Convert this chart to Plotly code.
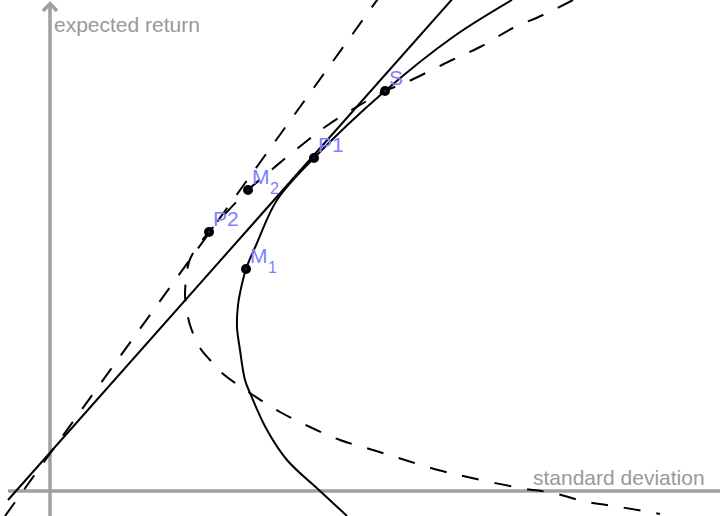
import plotly.graph_objects as go

# Risky-asset frontier (solid): standard deviation / expected return pairs
frontier1_sd = [2.97, 2.70, 2.37, 2.17, 2.00, 1.95, 1.90, 1.87, 1.88, 1.90, 1.96,
                2.07, 2.27, 2.64, 3.35, 4.03, 4.62]
frontier1_mu = [-0.25, 0.00, 0.31, 0.61, 0.98, 1.11, 1.41, 1.64, 1.86, 1.98, 2.22,
                2.48, 2.91, 3.33, 4.00, 4.54, 4.91]

# Extended frontier (dashed)
frontier2_sd = [5.23, 4.93, 4.63, 4.30, 4.02, 3.57, 3.35, 3.10, 2.78, 2.48, 1.98,
                1.90, 1.59, 1.45, 1.39, 1.35, 1.36, 1.40, 1.50, 1.60, 1.72, 2.00,
                2.30, 2.60, 2.90, 3.23, 3.55, 3.88, 4.22, 4.70, 5.03, 5.37, 5.70, 6.10]
frontier2_mu = [4.91, 4.76, 4.63, 4.44, 4.31, 4.09, 4.00, 3.86, 3.66, 3.43, 3.01,
                2.93, 2.59, 2.41, 2.29, 1.98, 1.86, 1.66, 1.43, 1.31, 1.18, 0.98,
                0.79, 0.64, 0.51, 0.41, 0.31, 0.21, 0.13, 0.03, -0.02, -0.11, -0.16, -0.23]

# Capital allocation lines (end points)
cal1_sd = [-0.42, 4.05]
cal1_mu = [-0.09, 4.95]
cal2_sd = [-0.45, 3.30]
cal2_mu = [-0.25, 4.95]

# Labelled portfolios (name + subscript index)
point_names = ["S", "P1", "M", "P2", "M"]
point_subs = ["", "", "2", "", "1"]
point_sd = [3.35, 2.64, 1.98, 1.59, 1.96]
point_mu = [4.00, 3.33, 3.01, 2.59, 2.22]

AXIS_GREY = "#a0a0a0"
LABEL_GREY = "#999999"
POINT_BLUE = "#7f7fff"
FONT = "Liberation Sans, Arial, sans-serif"

fig = go.Figure()

fig.add_trace(go.Scatter(x=frontier1_sd, y=frontier1_mu, mode="lines",
                         line=dict(color="black", width=2, shape="spline", smoothing=1)))
fig.add_trace(go.Scatter(x=frontier2_sd, y=frontier2_mu, mode="lines",
                         line=dict(color="black", width=2, shape="spline", smoothing=1,
                                   dash="17px,16px")))
fig.add_trace(go.Scatter(x=cal1_sd, y=cal1_mu, mode="lines",
                         line=dict(color="black", width=2)))
fig.add_trace(go.Scatter(x=cal2_sd, y=cal2_mu, mode="lines",
                         line=dict(color="black", width=2, dash="17px,16px")))
fig.add_trace(go.Scatter(x=point_sd, y=point_mu, mode="markers",
                         marker=dict(color="black", size=10, line=dict(width=0))))
fig.add_trace(go.Scatter(x=point_sd, y=point_mu, mode="markers",
                         marker=dict(color="#3c3cd0", size=1.5, line=dict(width=0))))

for name, sub, sx, my in zip(point_names, point_subs, point_sd, point_mu):
    fig.add_annotation(x=sx, y=my, xref="x", yref="y", text=name, showarrow=False,
                       xanchor="left", yanchor="bottom", xshift=2, yshift=0,
                       font=dict(family=FONT, size=21, color=POINT_BLUE))
    if sub:
        fig.add_annotation(x=sx, y=my, xref="x", yref="y", text=sub, showarrow=False,
                           xanchor="left", yanchor="bottom", xshift=20, yshift=-9,
                           font=dict(family=FONT, size=16, color=POINT_BLUE))

# Coordinate axes with arrow head on the vertical axis
fig.add_shape(type="line", xref="x", yref="y", x0=-0.42, y0=0, x1=6.8, y1=0,
              line=dict(color=AXIS_GREY, width=3.5), layer="below")
fig.add_shape(type="line", xref="x", yref="y", x0=0, y0=-0.3, x1=0, y1=4.88,
              line=dict(color=AXIS_GREY, width=3.5), layer="below")
fig.add_shape(type="path", xref="x", yref="y",
              path="M -0.07 4.80 L 0 4.875 L 0.07 4.80",
              line=dict(color=AXIS_GREY, width=3.5), layer="below")

fig.add_annotation(x=52 / 720, y=(516 - 38) / 516, xref="paper", yref="paper",
                   text="expected return", showarrow=False, xanchor="left", yanchor="bottom",
                   font=dict(family=FONT, size=21, color=LABEL_GREY))
fig.add_annotation(x=531 / 720, y=(516 - 491) / 516, xref="paper", yref="paper",
                   text="standard deviation", showarrow=False, xanchor="left", yanchor="bottom",
                   font=dict(family=FONT, size=21, color=LABEL_GREY))

fig.update_layout(
    width=720, height=516,
    margin=dict(l=0, r=0, t=0, b=0),
    paper_bgcolor="white", plot_bgcolor="white",
    showlegend=False,
    xaxis=dict(range=[-0.5, 6.7], visible=False, fixedrange=True),
    yaxis=dict(range=[-0.25, 4.91], visible=False, fixedrange=True),
)

fig.write_html("out.html")
